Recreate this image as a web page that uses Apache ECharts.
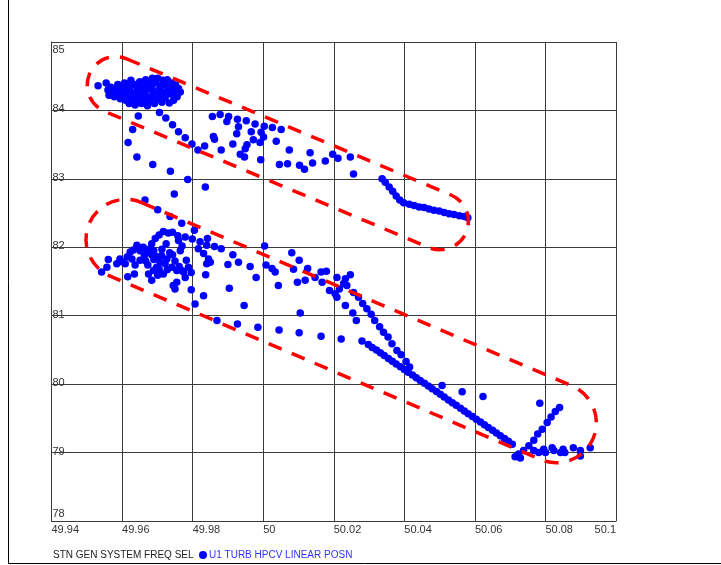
<!DOCTYPE html>
<html>
<head>
<meta charset="utf-8">
<script src="https://cdn.jsdelivr.net/npm/echarts@6/dist/echarts.min.js"></script>
<style>html,body{margin:0;padding:0;background:#fff;}#c{width:721px;height:565px;}</style>
</head>
<body>
<div id="c"></div>
<script>
const xAxisName = 'STN GEN SYSTEM FREQ SEL';
const seriesName = 'U1 TURB HPCV LINEAR POSN';
const xMin = 49.94, xMax = 50.1, xStep = 0.02;
const yMin = 78, yMax = 85, yStep = 1;

const upperCluster = [[49.9532,84.36],[49.9555,84.40],[49.9560,84.30],[49.9563,84.22],[49.9568,84.34],[49.9572,84.27],[49.9578,84.20],[49.9583,84.31],[49.9588,84.38],[49.9590,84.24],[49.9595,84.17],[49.9598,84.33],[49.9603,84.28],[49.9607,84.40],[49.9610,84.15],[49.9612,84.22],[49.9616,84.35],[49.9620,84.10],[49.9622,84.30],[49.9625,84.44],[49.9628,84.18],[49.9632,84.25],[49.9635,84.38],[49.9637,84.08],[49.9640,84.13],[49.9643,84.32],[49.9646,84.20],[49.9650,84.42],[49.9652,84.27],[49.9655,84.10],[49.9658,84.36],[49.9661,84.16],[49.9664,84.23],[49.9667,84.45],[49.9670,84.30],[49.9672,84.07],[49.9675,84.39],[49.9678,84.13],[49.9681,84.20],[49.9684,84.33],[49.9686,84.47],[49.9689,84.26],[49.9692,84.10],[49.9695,84.40],[49.9698,84.17],[49.9701,84.47],[49.9704,84.30],[49.9707,84.22],[49.9710,84.36],[49.9713,84.12],[49.9716,84.44],[49.9719,84.27],[49.9722,84.18],[49.9725,84.38],[49.9728,84.45],[49.9731,84.31],[49.9734,84.11],[49.9737,84.24],[49.9740,84.40],[49.9743,84.34],[49.9746,84.15],[49.9749,84.28],[49.9752,84.37],[49.9756,84.20],[49.9760,84.32],[49.9765,84.27]];

const upperBand = [[49.9646,83.92],[49.9706,83.97],[49.9724,83.89],[49.9743,83.79],[49.9760,83.69],[49.9779,83.60],[49.9798,83.51],[49.9815,83.42],[49.9834,83.48],[49.9630,83.72],[49.9617,83.53],[49.9642,83.32],[49.9687,83.21],[49.9737,83.11],[49.9786,82.99],[49.9836,82.88],[49.9748,82.78],[49.9856,83.91],[49.9878,83.94],[49.9902,83.91],[49.9897,83.84],[49.9927,83.87],[49.9952,83.85],[49.9977,83.80],[50.0003,83.77],[50.0026,83.75],[50.0051,83.72],[49.9930,83.76],[49.9925,83.66],[49.9966,83.69],[49.9994,83.68],[50.0001,83.61],[49.9859,83.62],[49.9862,83.58],[49.9914,83.51],[49.9954,83.50],[49.9949,83.44],[49.9972,83.57],[49.9991,83.53],[50.0037,83.55],[49.9881,83.42],[49.9935,83.36],[49.9947,83.32],[49.9993,83.28],[50.0074,83.42],[50.0133,83.38],[50.0046,83.21],[50.0069,83.22],[50.0103,83.20],[50.0117,83.14],[50.0140,83.23],[50.0176,83.26],[50.0197,83.36],[50.0212,83.30],[50.0247,83.32],[50.0256,83.07]];

const upperSegment = [[50.0337,83.00],[50.0346,82.95],[50.0357,82.88],[50.0367,82.82],[50.0377,82.75],[50.0387,82.69],[50.0398,82.65],[50.0414,82.63],[50.0428,82.61],[50.0442,82.59],[50.0456,82.58],[50.0470,82.56],[50.0484,82.54],[50.0499,82.53],[50.0513,82.51],[50.0527,82.49],[50.0541,82.48],[50.0556,82.46],[50.0570,82.45],[50.0580,82.43]];

const lowerCluster = [[49.9665,82.69],[49.9701,82.55],[49.9736,82.45],[49.9769,82.35],[49.9805,82.25],[49.9684,82.05],[49.9694,82.13],[49.9705,82.18],[49.9717,82.23],[49.9731,82.21],[49.9743,82.22],[49.9758,82.17],[49.9779,82.15],[49.9799,82.12],[49.9821,82.08],[49.9842,82.13],[49.9840,82.03],[49.9862,82.01],[49.9881,81.98],[49.9816,81.98],[49.9831,81.91],[49.9845,81.83],[49.9850,81.78],[49.9840,81.76],[49.9837,81.60],[49.9796,81.38],[49.9807,81.17],[49.9831,81.29],[49.9755,81.49],[49.9750,81.39],[49.9745,81.44],[49.9542,81.64],[49.9557,81.71],[49.9561,81.82],[49.9585,81.76],[49.9594,81.83],[49.9609,81.76],[49.9623,81.93],[49.9628,81.83],[49.9642,82.03],[49.9651,81.95],[49.9637,81.74],[49.9616,81.57],[49.9635,81.61],[49.9651,81.81],[49.9663,81.88],[49.9673,81.74],[49.9675,81.61],[49.9684,81.52],[49.9689,81.66],[49.9698,81.71],[49.9708,81.78],[49.9701,81.59],[49.9717,81.61],[49.9722,81.76],[49.9727,81.83],[49.9741,81.71],[49.9743,81.89],[49.9765,81.95],[49.9755,81.66],[49.9769,81.66],[49.9779,81.56],[49.9712,81.88],[49.9698,81.86],[49.9684,81.89],[49.9670,81.93],[49.9656,81.99],[49.9679,81.98],[49.9788,81.71],[49.9796,81.63],[49.9774,81.64],[49.9782,81.81],[49.9600,81.79],[49.9615,81.86],[49.9632,81.96],[49.9660,82.00],[49.9667,81.80],[49.9690,81.95],[49.9713,81.97],[49.9725,82.05],[49.9735,81.92],[49.9750,81.80],[49.9762,81.72],[49.9690,81.82],[49.9705,81.68],[49.9728,81.67],[49.9760,82.10],[49.9770,82.02]];

const lowerBand = [[49.9914,81.89],[49.9900,81.75],[49.9930,81.78],[49.9963,81.72],[49.9980,81.56],[50.0004,82.02],[50.0008,81.74],[50.0025,81.69],[50.0034,81.64],[50.0043,81.44],[50.0081,81.92],[50.0102,81.81],[50.0086,81.68],[50.0126,81.69],[50.0097,81.49],[50.0119,81.52],[50.0147,81.56],[50.0164,81.64],[50.0179,81.65],[50.0167,81.49],[50.0188,81.37],[50.0209,81.56],[50.0233,81.54],[50.0237,81.44],[49.9904,81.40],[49.9946,81.15],[50.0105,81.04],[49.9869,80.93],[49.9927,80.88],[49.9985,80.83],[50.0045,80.79],[50.0102,80.75],[50.0164,80.70],[50.0221,80.66],[50.0209,81.27],[50.0247,81.60],[50.0228,81.47],[50.0216,81.39],[50.0204,81.32],[50.0233,81.15],[50.0254,81.04],[50.0264,80.93],[50.0280,80.63]];

const steepLine = [[50.0256,81.34],[50.0270,81.27],[50.0282,81.18],[50.0294,81.10],[50.0306,81.02],[50.0316,80.93],[50.0330,80.84],[50.0341,80.76],[50.0354,80.69],[50.0365,80.59],[50.0379,80.49],[50.0391,80.43],[50.0405,80.33],[50.0415,80.25]];

const longDiagonal = [[50.0298,80.578],[50.0309,80.537],[50.0321,80.498],[50.0332,80.457],[50.0343,80.417],[50.0355,80.376],[50.0366,80.335],[50.0377,80.296],[50.0389,80.255],[50.0400,80.215],[50.0411,80.174],[50.0423,80.133],[50.0434,80.094],[50.0445,80.053],[50.0457,80.013],[50.0468,79.972],[50.0479,79.931],[50.0491,79.892],[50.0502,79.851],[50.0513,79.811],[50.0525,79.770],[50.0536,79.729],[50.0547,79.690],[50.0559,79.649],[50.0570,79.609],[50.0581,79.568],[50.0593,79.527],[50.0604,79.488],[50.0616,79.447],[50.0627,79.407],[50.0638,79.366],[50.0650,79.325],[50.0661,79.286],[50.0672,79.245],[50.0684,79.205],[50.0695,79.164],[50.0706,79.123]];

const tailPoints = [[50.0507,79.98],[50.0564,79.89],[50.0623,79.82],[50.0714,78.94],[50.0729,78.92],[50.0724,78.98],[50.0738,79.03],[50.0753,79.10],[50.0767,79.18],[50.0778,79.27],[50.0791,79.34],[50.0805,79.44],[50.0816,79.52],[50.0828,79.60],[50.0840,79.66],[50.0784,79.72],[50.0767,79.03],[50.0781,79.00],[50.0795,79.05],[50.0800,79.00],[50.0819,79.07],[50.0824,79.03],[50.0843,79.00],[50.0850,79.05],[50.0855,79.00],[50.0879,79.07],[50.0899,79.03],[50.0899,78.95],[50.0927,79.07]];

// annotation outlines: end-cap centres in data units, radius in px
const upperOutline = [[49.9582,84.37],[50.0501,82.38]];
const lowerOutline = [[49.9611,82.116],[50.0831,79.436]];

const allPoints = [].concat(upperCluster, upperBand, upperSegment, lowerCluster, lowerBand, steepLine, longDiagonal, tailPoints);

const chart = echarts.init(document.getElementById('c'), null, {renderer: 'canvas'});
const gridColor = '#3a3a3a';
const labelColor = '#333';
const font = 'Arial, "Liberation Sans", sans-serif';

chart.setOption({
  animation: false,
  backgroundColor: '#fff',
  title: {
    text: xAxisName, left: 53, top: 550, padding: 0,
    textStyle: {fontSize: 10, fontWeight: 'normal', color: '#222', fontFamily: font}
  },
  legend: {
    left: 199, top: 550, padding: 0, icon: 'circle', itemWidth: 8, itemHeight: 8, itemGap: 5,
    data: [seriesName],
    textStyle: {fontSize: 10, color: '#3232ff', fontFamily: font, padding: [0,0,0,-3]}
  },
  grid: {left: 51.5, right: 105, top: 42, bottom: 44, containLabel: false},
  xAxis: {
    type: 'value', min: xMin, max: xMax, interval: xStep,
    axisLine: {show: true, lineStyle: {color: gridColor, width: 1}},
    axisTick: {show: false},
    splitLine: {show: true, lineStyle: {color: gridColor, width: 1}},
    axisLabel: {
      color: labelColor, fontSize: 11, fontFamily: font, margin: 3,
      align: 'left', alignMaxLabel: 'right',
      formatter: v => String(+v.toFixed(2))
    }
  },
  yAxis: {
    type: 'value', min: yMin, max: yMax, interval: yStep,
    axisLine: {show: true, lineStyle: {color: gridColor, width: 1}},
    axisTick: {show: false},
    splitLine: {show: true, lineStyle: {color: gridColor, width: 1}},
    axisLabel: {
      inside: true, margin: 1, color: labelColor, fontSize: 11, fontFamily: font,
      formatter: v => v === yMax ? '{t|' + v + '}' : (v === yMin ? '{b|' + v + '}' : '{m|' + v + '}'),
      rich: {
        t: {padding: [16,0,0,0], fontSize: 11, color: labelColor, fontFamily: font},
        b: {padding: [0,0,14,0], fontSize: 11, color: labelColor, fontFamily: font},
        m: {padding: [0,0,2,0], fontSize: 11, color: labelColor, fontFamily: font}
      }
    }
  },
  series: [{
    name: seriesName, type: 'scatter', data: allPoints,
    symbol: 'circle', symbolSize: 7.5,
    itemStyle: {color: '#0000ff', opacity: 1}
  }]
});

function stadium(a, b, r) {
  const p1 = chart.convertToPixel({gridIndex: 0}, a);
  const p2 = chart.convertToPixel({gridIndex: 0}, b);
  const dx = p2[0] - p1[0], dy = p2[1] - p1[1];
  const L = Math.hypot(dx, dy);
  return {
    type: 'rect', silent: true, z: 100,
    x: (p1[0] + p2[0]) / 2, y: (p1[1] + p2[1]) / 2,
    rotation: -Math.atan2(dy, dx),
    shape: {x: -(L / 2 + r), y: -r, width: L + 2 * r, height: 2 * r, r: r},
    style: {fill: 'none', stroke: '#ff0000', lineWidth: 3.5, lineDash: [14, 11]}
  };
}

chart.setOption({
  graphic: [
    stadium(upperOutline[0], upperOutline[1], 28.5),
    stadium(lowerOutline[0], lowerOutline[1], 40),
    {type: 'line', silent: true, shape: {x1: 8.5, y1: 0, x2: 8.5, y2: 563.5}, style: {stroke: '#000', lineWidth: 1}},
    {type: 'line', silent: true, shape: {x1: 8, y1: 563.5, x2: 721, y2: 563.5}, style: {stroke: '#000', lineWidth: 1}}
  ]
});
</script>
</body>
</html>
